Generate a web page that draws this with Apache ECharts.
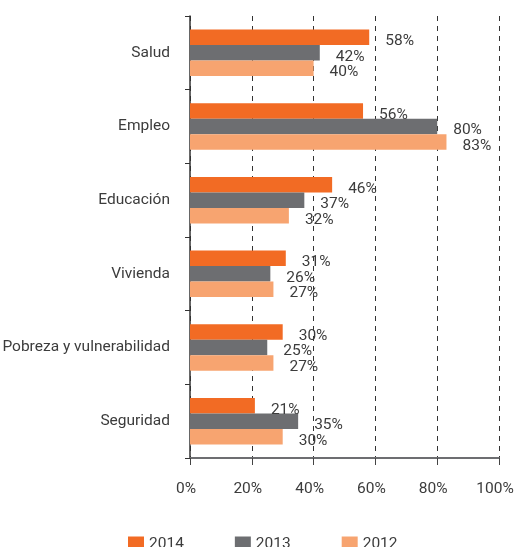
<!DOCTYPE html>
<html>
<head>
<meta charset="utf-8">
<script src="https://cdn.jsdelivr.net/npm/echarts@6/dist/echarts.min.js"></script>
<style>
  html, body { margin: 0; padding: 0; background: #fff; }
  #chart { width: 515px; height: 547px; }
</style>
</head>
<body>
<div id="chart"></div>
<script>
// datos
const categorias = ['Salud', 'Empleo', 'Educación', 'Vivienda', 'Pobreza y vulnerabilidad', 'Seguridad'];
const anios = ['2014', '2013', '2012'];
const v2014 = [58, 56, 46, 31, 30, 21];
const v2013 = [42, 80, 37, 26, 25, 35];
const v2012 = [40, 83, 32, 27, 27, 30];
const colores = ['#f26b24', '#6d6e71', '#f7a470'];

const FONT = "Roboto, 'Liberation Sans', sans-serif";
const FS = 15.5;
const TXT = '#3c3c3c';

function serie(nombre, valores, color) {
  return {
    name: nombre,
    type: 'bar',
    data: valores,
    barWidth: 15.5,
    barGap: '0%',
    itemStyle: { color: color },
    label: {
      show: true,
      position: 'right',
      distance: 16,
      offset: [0, 4],
      formatter: '{c}%',
      color: TXT,
      fontFamily: FONT,
      fontSize: FS
    }
  };
}

const chart = echarts.init(document.getElementById('chart'));
chart.setOption({
  animation: false,
  backgroundColor: '#fff',
  grid: { left: 190, right: 16, top: 16, bottom: 89, containLabel: false, outerBoundsMode: 'none' },
  xAxis: {
    type: 'value',
    min: 0, max: 100, interval: 20,
    axisLine: { show: true, lineStyle: { color: '#6d6e71', width: 2 } },
    axisTick: { show: true, length: 7, lineStyle: { color: '#444' } },
    splitLine: { show: true, lineStyle: { color: '#333', type: [5, 5], width: 1 } },
    axisLabel: {
      formatter: '{value}%', margin: 23, color: TXT,
      fontFamily: FONT, fontSize: FS, padding: [0, 8, 0, 0]
    }
  },
  yAxis: {
    type: 'category',
    data: categorias,
    inverse: true,
    axisLine: { show: true, lineStyle: { color: '#333', width: 1.5 } },
    axisTick: { show: true, length: 5, lineStyle: { color: '#333' } },
    axisLabel: { margin: 20, color: TXT, fontFamily: FONT, fontSize: FS, padding: [3, 0, 0, 0] }
  },
  legend: {
    data: anios,
    left: 123, top: 531,
    itemWidth: 16, itemHeight: 15, itemGap: 51,
    icon: 'rect',
    textStyle: { color: TXT, fontFamily: FONT, fontSize: FS }
  },
  series: [
    serie(anios[0], v2014, colores[0]),
    serie(anios[1], v2013, colores[1]),
    serie(anios[2], v2012, colores[2])
  ]
});
</script>
</body>
</html>
